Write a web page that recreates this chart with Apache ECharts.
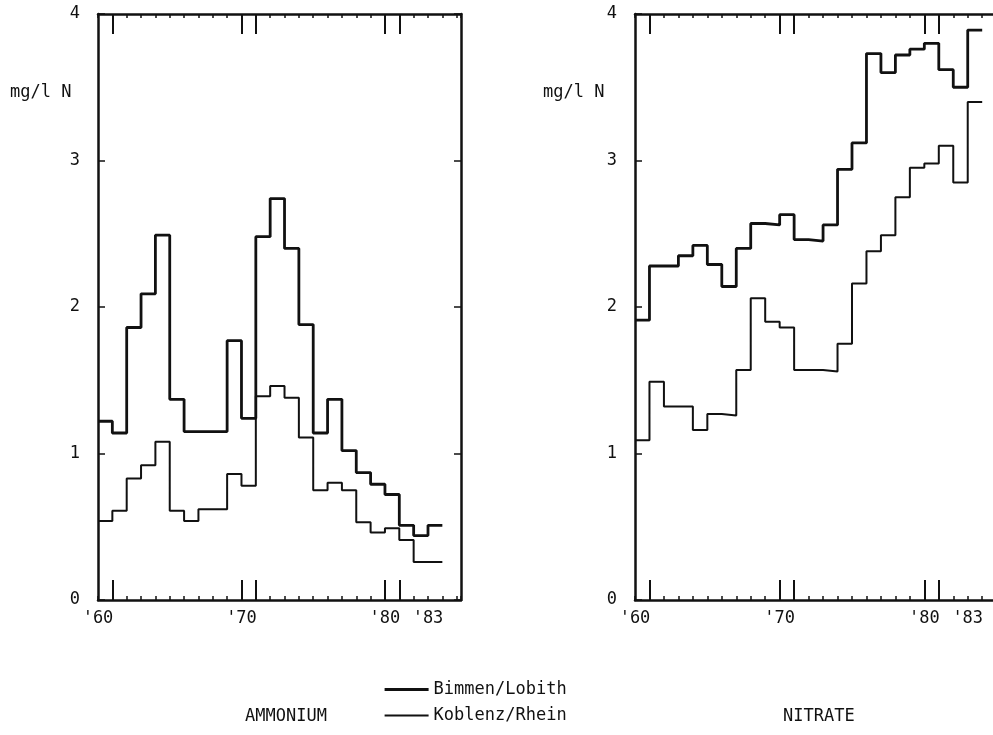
<!DOCTYPE html>
<html>
<head>
<meta charset="utf-8">
<script src="https://cdn.jsdelivr.net/npm/echarts@6/dist/echarts.min.js"></script>
<style>
  html, body { margin: 0; padding: 0; background: #fff; }
  #chart { width: 993px; height: 735px; }
</style>
</head>
<body>
<div id="chart"></div>
<script>
var years = [1960, 1961, 1962, 1963, 1964, 1965, 1966, 1967, 1968, 1969, 1970, 1971,
             1972, 1973, 1974, 1975, 1976, 1977, 1978, 1979, 1980, 1981, 1982, 1983];

// ammonium, mg/l N
var ammoniumBimmen = [1.22, 1.14, 1.86, 2.09, 2.49, 1.37, 1.15, 1.15, 1.15, 1.77, 1.24, 2.48,
                      2.74, 2.40, 1.88, 1.14, 1.37, 1.02, 0.87, 0.79, 0.72, 0.51, 0.44, 0.51];
var ammoniumKoblenz = [0.54, 0.61, 0.83, 0.92, 1.08, 0.61, 0.54, 0.62, 0.62, 0.86, 0.78, 1.39,
                       1.46, 1.38, 1.11, 0.75, 0.80, 0.75, 0.53, 0.46, 0.49, 0.41, 0.26, 0.26];

// nitrate, mg/l N
var nitrateBimmen = [1.91, 2.28, 2.28, 2.35, 2.42, 2.29, 2.14, 2.40, 2.57, 2.56, 2.63, 2.46,
                     2.45, 2.56, 2.94, 3.12, 3.73, 3.60, 3.72, 3.76, 3.80, 3.62, 3.50, 3.89];
var nitrateKoblenz = [1.09, 1.49, 1.32, 1.32, 1.16, 1.27, 1.26, 1.57, 2.06, 1.90, 1.86, 1.57,
                      1.57, 1.56, 1.75, 2.16, 2.38, 2.49, 2.75, 2.95, 2.98, 3.10, 2.85, 3.40];

var labelYears = [1960, 1970, 1980, 1983];
var longTickYears = [1961, 1970, 1971, 1980, 1981];
var seriesNames = ['Bimmen/Lobith', 'Koblenz/Rhein'];
var panelTitles = ['AMMONIUM', 'NITRATE'];
var unitLabel = 'mg/l N';

var FONT = 'DejaVu Sans Mono';
var INK = '#111';
var THICK = 2.8, THIN = 2;

// one step per year, held to the end of the last year
function steps(vals) {
    var d = years.map(function (y, i) { return [y, vals[i]]; });
    d.push([years[years.length - 1] + 1, vals[vals.length - 1]]);
    return d;
}

function xAxesFor(grid) {
    var base = { type: 'value', gridIndex: grid, min: 1960, max: 1985.3, interval: 1,
                 splitLine: { show: false } };
    var line = { show: true, lineStyle: { color: INK, width: 2.5 } };
    return [
        Object.assign({}, base, {
            position: 'bottom', axisLine: line,
            axisTick: { inside: true, length: 4, lineStyle: { color: INK, width: 1.5 } },
            axisLabel: { customValues: labelYears, margin: 10, color: INK, fontFamily: FONT, fontSize: 17,
                         formatter: function (v) { return "'" + String(Math.round(v)).slice(2); } }
        }),
        Object.assign({}, base, {
            position: 'bottom', axisLine: { show: false }, axisLabel: { show: false },
            axisTick: { customValues: longTickYears, inside: true, length: 20, lineStyle: { color: INK, width: 2 } }
        }),
        Object.assign({}, base, {
            position: 'top', axisLine: line, axisLabel: { show: false },
            axisTick: { inside: true, length: 4, lineStyle: { color: INK, width: 1.5 } }
        }),
        Object.assign({}, base, {
            position: 'top', axisLine: { show: false }, axisLabel: { show: false },
            axisTick: { customValues: longTickYears, inside: true, length: 20, lineStyle: { color: INK, width: 2 } }
        })
    ];
}

function yAxesFor(grid) {
    var base = { type: 'value', gridIndex: grid, min: 0, max: 4, interval: 1,
                 splitLine: { show: false },
                 axisLine: { show: true, lineStyle: { color: INK, width: 2.5 } },
                 axisTick: { inside: true, length: 7, lineStyle: { color: INK, width: 1.5 } } };
    return [
        Object.assign({}, base, {
            position: 'left',
            axisLabel: { margin: 18, color: INK, fontFamily: FONT, fontSize: 17 }
        }),
        Object.assign({}, base, { position: 'right', axisLabel: { show: false } })
    ];
}

function stepSeries(name, vals, grid, width) {
    return {
        name: name, type: 'line', step: 'end', symbol: 'none',
        xAxisIndex: grid * 4, yAxisIndex: grid * 2,
        lineStyle: { color: INK, width: width },
        itemStyle: { color: INK },
        data: steps(vals)
    };
}

var chart = echarts.init(document.getElementById('chart'));
chart.setOption({
    backgroundColor: '#fff',
    animation: false,
    grid: [
        { left: 98, top: 14, width: 363, height: 586, outerBoundsMode: 'none' },
        // the right frame of this panel falls just outside the picture
        { left: 635, top: 14, width: 366, height: 586, outerBoundsMode: 'none' }
    ],
    xAxis: xAxesFor(0).concat(xAxesFor(1)),
    yAxis: yAxesFor(0).concat(yAxesFor(1)),
    legend: {
        data: [
            { name: seriesNames[0], lineStyle: { width: THICK + 0.4 } },
            { name: seriesNames[1], lineStyle: { width: THIN } }
        ],
        orient: 'vertical', left: 378, top: 676,
        itemWidth: 44, itemHeight: 10, itemGap: 9,
        itemStyle: { opacity: 0 },
        textStyle: { color: INK, fontFamily: FONT, fontSize: 17 }
    },
    graphic: [
        { type: 'text', left: 10, top: 84, style: { text: unitLabel, fill: INK, font: '17px "' + FONT + '"' } },
        { type: 'text', left: 543, top: 84, style: { text: unitLabel, fill: INK, font: '17px "' + FONT + '"' } },
        { type: 'text', left: 245, top: 708, style: { text: panelTitles[0], fill: INK, font: '17px "' + FONT + '"' } },
        { type: 'text', left: 783, top: 708, style: { text: panelTitles[1], fill: INK, font: '17px "' + FONT + '"' } }
    ],
    series: [
        stepSeries(seriesNames[0], ammoniumBimmen, 0, THICK),
        stepSeries(seriesNames[1], ammoniumKoblenz, 0, THIN),
        stepSeries(seriesNames[0], nitrateBimmen, 1, THICK),
        stepSeries(seriesNames[1], nitrateKoblenz, 1, THIN)
    ]
});
</script>
</body>
</html>
